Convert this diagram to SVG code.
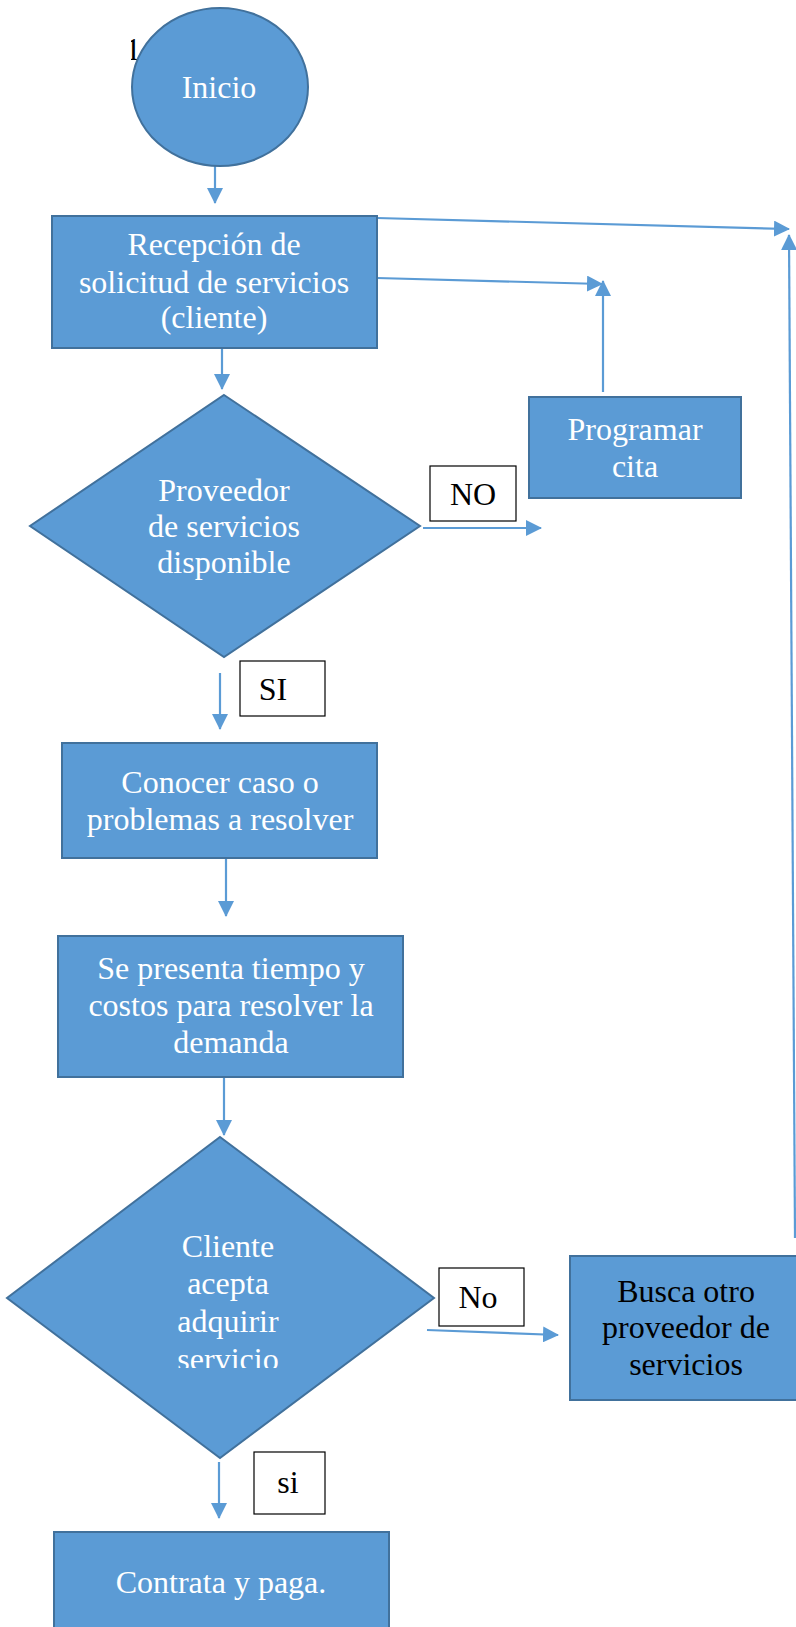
<svg xmlns="http://www.w3.org/2000/svg" width="796" height="1627" viewBox="0 0 796 1627">
<style>
.shape{fill:#5B9BD5;stroke:#41719C;stroke-width:2}
.t{font-family:"Liberation Serif","Times New Roman",serif;font-size:32px;text-anchor:middle}
.w{fill:#FFFFFF}
.k{fill:#000000}
.lbl{fill:#FFFFFF;stroke:#000000;stroke-width:1.2}
.con{stroke:#5B9BD5;stroke-width:2.2;fill:none}
</style>
<defs>
<marker id="ah" viewBox="0 0 16 16" markerWidth="16" markerHeight="16" refX="15" refY="8" orient="auto" markerUnits="userSpaceOnUse">
<path d="M0,0 L16,8 L0,16 z" fill="#5B9BD5"/>
</marker>
<clipPath id="clip1"><rect x="131" y="0" width="40" height="80"/></clipPath>
<clipPath id="clipd2"><rect x="0" y="1100" width="500" height="268"/></clipPath>
</defs>

<g id="page-number">
<text class="t k" x="125" y="60" style="text-anchor:start" clip-path="url(#clip1)">1</text>
</g>

<g id="connectors">
<line class="con" x1="215" y1="166" x2="215" y2="203" marker-end="url(#ah)"/>
<line class="con" x1="222" y1="348" x2="222" y2="389" marker-end="url(#ah)"/>
<line class="con" x1="377" y1="218" x2="789" y2="229" marker-end="url(#ah)"/>
<line class="con" x1="377" y1="278" x2="602" y2="284" marker-end="url(#ah)"/>
<line class="con" x1="603" y1="392" x2="603" y2="281" marker-end="url(#ah)"/>
<line class="con" x1="423" y1="528" x2="541" y2="528" marker-end="url(#ah)"/>
<line class="con" x1="220" y1="673" x2="220" y2="729" marker-end="url(#ah)"/>
<line class="con" x1="226" y1="858" x2="226" y2="916" marker-end="url(#ah)"/>
<line class="con" x1="224" y1="1077" x2="224" y2="1135" marker-end="url(#ah)"/>
<line class="con" x1="427" y1="1330" x2="558" y2="1335" marker-end="url(#ah)"/>
<line class="con" x1="795" y1="1238" x2="789" y2="235" marker-end="url(#ah)"/>
<line class="con" x1="219" y1="1462" x2="219" y2="1518" marker-end="url(#ah)"/>
</g>

<g id="inicio">
<ellipse class="shape" cx="220" cy="87" rx="88" ry="79"/>
<text class="t w" x="219" y="98">Inicio</text>
</g>

<g id="recepcion">
<rect class="shape" x="52" y="216" width="325" height="132"/>
<text class="t w" x="214" y="255">Recepción de</text>
<text class="t w" x="214" y="293">solicitud de servicios</text>
<text class="t w" x="214" y="328">(cliente)</text>
</g>

<g id="programar">
<rect class="shape" x="529" y="397" width="212" height="101"/>
<text class="t w" x="635" y="440">Programar</text>
<text class="t w" x="635" y="477">cita</text>
</g>

<g id="proveedor-disponible">
<polygon class="shape" points="224,395 420,526 224,657 30,526"/>
<text class="t w" x="224" y="501">Proveedor</text>
<text class="t w" x="224" y="537">de servicios</text>
<text class="t w" x="224" y="573">disponible</text>
</g>

<g id="label-no">
<rect class="lbl" x="430" y="466" width="86" height="55"/>
<text class="t k" x="473" y="505">NO</text>
</g>

<g id="label-si">
<rect class="lbl" x="240" y="661" width="85" height="55"/>
<text class="t k" x="273" y="700">SI</text>
</g>

<g id="conocer">
<rect class="shape" x="62" y="743" width="315" height="115"/>
<text class="t w" x="220" y="793">Conocer caso o</text>
<text class="t w" x="220" y="830">problemas a resolver</text>
</g>

<g id="se-presenta">
<rect class="shape" x="58" y="936" width="345" height="141"/>
<text class="t w" x="231" y="979">Se presenta tiempo y</text>
<text class="t w" x="231" y="1016">costos para resolver la</text>
<text class="t w" x="231" y="1053">demanda</text>
</g>

<g id="cliente-acepta">
<polygon class="shape" points="220,1137 434,1298 220,1458 7,1298"/>
<g clip-path="url(#clipd2)">
<text class="t w" x="228" y="1257">Cliente</text>
<text class="t w" x="228" y="1294">acepta</text>
<text class="t w" x="228" y="1332">adquirir</text>
<text class="t w" x="228" y="1370">servicio</text>
</g>
</g>

<g id="label-no2">
<rect class="lbl" x="439" y="1268" width="85" height="58"/>
<text class="t k" x="478" y="1308">No</text>
</g>

<g id="busca">
<rect class="shape" x="570" y="1256" width="240" height="144"/>
<text class="t k" x="686" y="1302">Busca otro</text>
<text class="t k" x="686" y="1338">proveedor de</text>
<text class="t k" x="686" y="1375">servicios</text>
</g>

<g id="label-si2">
<rect class="lbl" x="254" y="1452" width="71" height="62"/>
<text class="t k" x="288" y="1493">si</text>
</g>

<g id="contrata">
<rect class="shape" x="54" y="1532" width="335" height="120"/>
<text class="t w" x="221" y="1593">Contrata y paga.</text>
</g>
</svg>
